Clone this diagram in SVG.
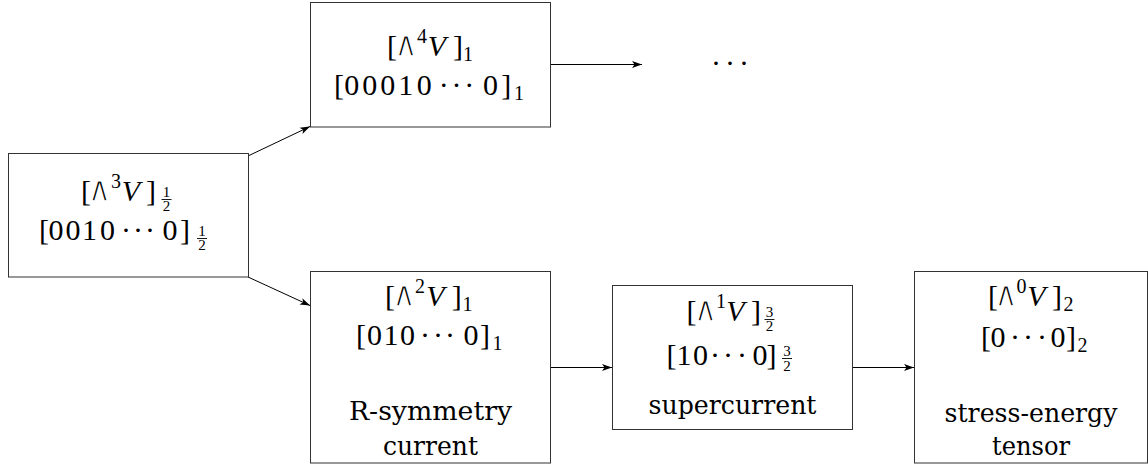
<svg xmlns="http://www.w3.org/2000/svg" width="1148" height="464" viewBox="0 0 1148 464">
<style>
.box{fill:#fff;stroke:#333;stroke-width:1}
.t{font-family:"Liberation Serif",serif;font-size:30px;fill:#000;text-anchor:middle}
.i{font-style:italic}
.s{font-size:20px}
.f{font-family:"Liberation Serif",serif;font-size:15px;fill:#000;text-anchor:middle}
.w{font-family:"DejaVu Sans",sans-serif;font-size:35px;stroke:#fff;stroke-width:1.4px}
.l{font-family:"DejaVu Serif",serif;font-size:26px;fill:#000;text-anchor:middle}
.bar{stroke:#000;stroke-width:0.9}
.c{stroke:#000;stroke-width:1;fill:none;marker-end:url(#ah)}
</style>
<defs>
<marker id="ah" viewBox="0 0 10 8" refX="10" refY="4" markerWidth="10" markerHeight="8" orient="auto" markerUnits="userSpaceOnUse">
<path d="M0,0.5 L10,4 L0,7.5 L2.5,4 z" fill="#000"/>
</marker>
</defs>
<rect width="1148" height="464" fill="#fff"/>

<g id="connectors">
<path class="c" d="M248,156 L310,126.5"/>
<path class="c" d="M248,277 L310,305.5"/>
<path class="c" d="M551,64.5 L642,64.5"/>
<path class="c" d="M551,367.5 L612,367.5"/>
<path class="c" d="M853,367.5 L914,367.5"/>
</g>

<g id="nodeA">
<rect class="box" x="8.5" y="153.5" width="240" height="123.5"/>
<text class="t"><tspan x="86" y="201">[</tspan><tspan class="w" x="99.5" y="201" textLength="24" lengthAdjust="spacingAndGlyphs">∧</tspan><tspan class="s" x="116" y="188">3</tspan><tspan class="i" x="131" y="201">V</tspan><tspan x="151" y="201">]</tspan></text>
<text class="f" x="166.5" y="197">1</text><line class="bar" x1="161.5" y1="199.5" x2="171.5" y2="199.5"/><text class="f" x="166.5" y="211">2</text>
<text class="t" x="44 56 73 89.5 107.5 126 138 150 170 185" y="240">[0010···0]</text>
<text class="f" x="202" y="236">1</text><line class="bar" x1="197" y1="238.5" x2="207" y2="238.5"/><text class="f" x="202" y="250">2</text>
</g>

<g id="nodeB">
<rect class="box" x="310.5" y="2.5" width="240" height="124.5"/>
<text class="t"><tspan x="392" y="56">[</tspan><tspan class="w" x="406" y="56" textLength="24" lengthAdjust="spacingAndGlyphs">∧</tspan><tspan class="s" x="422" y="43">4</tspan><tspan class="i" x="437" y="56">V</tspan><tspan x="458" y="56">]</tspan><tspan class="s" x="468" y="61">1</tspan></text>
<text class="t" x="339 351.7 369.7 387.7 405.8 424.3 443.8 456.5 469.2 490.4 506.3" y="95">[00010···0]</text>
<text class="t s" x="519" y="100">1</text>
</g>

<g id="nodeC">
<rect class="box" x="310.5" y="271.5" width="240" height="191.5"/>
<text class="t"><tspan x="390" y="306">[</tspan><tspan class="w" x="404" y="306" textLength="24" lengthAdjust="spacingAndGlyphs">∧</tspan><tspan class="s" x="420" y="293">2</tspan><tspan class="i" x="435.5" y="306">V</tspan><tspan x="456.7" y="306">]</tspan><tspan class="s" x="467.5" y="311">1</tspan></text>
<text class="t" x="361 374.5 391 407.5 425 438 450 471 485" y="345">[010···0]</text>
<text class="t s" x="497.5" y="350">1</text>
<text class="l" x="430.5" y="420" textLength="163" lengthAdjust="spacingAndGlyphs">R-symmetry</text>
<text class="l" x="430.5" y="455" textLength="95" lengthAdjust="spacingAndGlyphs">current</text>
</g>

<g id="nodeD">
<rect class="box" x="612.5" y="285.5" width="240" height="144"/>
<text class="t"><tspan x="691.5" y="321">[</tspan><tspan class="w" x="705.5" y="321" textLength="24" lengthAdjust="spacingAndGlyphs">∧</tspan><tspan class="s" x="721" y="308">1</tspan><tspan class="i" x="735.5" y="321">V</tspan><tspan x="756" y="321">]</tspan></text>
<text class="f" x="769.5" y="317">3</text><line class="bar" x1="764.5" y1="319.5" x2="774.5" y2="319.5"/><text class="f" x="769.5" y="331">2</text>
<text class="t" x="671.5 684 700.5 715 728 742 760 771.5" y="365">[10···0]</text>
<text class="f" x="787" y="356">3</text><line class="bar" x1="782" y1="358.5" x2="792" y2="358.5"/><text class="f" x="787" y="371">2</text>
<text class="l" x="732.5" y="414" textLength="168" lengthAdjust="spacingAndGlyphs">supercurrent</text>
</g>

<g id="nodeE">
<rect class="box" x="914.5" y="271.5" width="233" height="191.5"/>
<text class="t"><tspan x="993" y="306">[</tspan><tspan class="w" x="1006" y="306" textLength="24" lengthAdjust="spacingAndGlyphs">∧</tspan><tspan class="s" x="1021.5" y="293">0</tspan><tspan class="i" x="1036.5" y="306">V</tspan><tspan x="1057" y="306">]</tspan><tspan class="s" x="1068.5" y="311">2</tspan></text>
<text class="t" x="986 998 1015 1028 1042 1058 1071" y="347">[0···0]</text>
<text class="t s" x="1082.5" y="352">2</text>
<text class="l" x="1031" y="422" textLength="173" lengthAdjust="spacingAndGlyphs">stress-energy</text>
<text class="l" x="1031" y="455" textLength="78" lengthAdjust="spacingAndGlyphs">tensor</text>
</g>

<g id="ellipsis">
<text class="t" x="716 730 744" y="73">···</text>
</g>
</svg>
